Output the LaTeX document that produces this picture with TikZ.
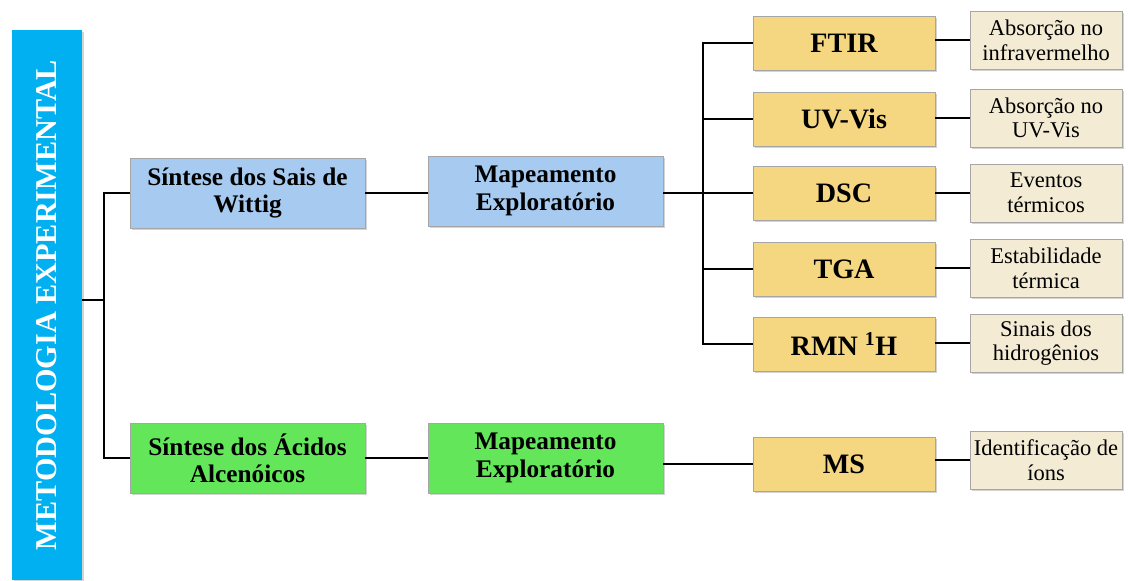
\documentclass[tikz,border=0pt]{standalone}
\usepackage{fontspec}
\setmainfont{Liberation Serif}
\usetikzlibrary{shadows}

\definecolor{barblue}{RGB}{0,176,240}
\definecolor{boxblue}{RGB}{166,202,240}
\definecolor{boxgreen}{RGB}{99,230,90}
\definecolor{boxgold}{RGB}{245,215,130}
\definecolor{boxbeige}{RGB}{243,235,212}

\begin{document}
\begin{tikzpicture}[x=0.025cm,y=-0.025cm]
		\tikzset{box/.style = {draw=black!35, line width=0.4pt, drop shadow={shadow xshift=1.2pt, shadow yshift=-1.2pt, opacity=0.35},
				align=center, inner sep=1pt, font=\fontsize{18}{19.5}\selectfont\bfseries}}
		\tikzset{synth/.style = {box, minimum width=5.875cm, minimum height=1.75cm}}
		\tikzset{tech/.style = {box, fill=boxgold, minimum width=4.55cm, minimum height=1.35cm,
				font=\fontsize{20}{22}\selectfont\bfseries}}
		\tikzset{info/.style = {box, fill=boxbeige, minimum width=3.8cm, minimum height=1.45cm,
				font=\fontsize{16}{17.5}\selectfont}}
		\tikzset{edge/.style = {line width=1.1pt}}
		
		\useasboundingbox (0,0) rectangle (1128,580);
		
		% barra lateral
		\node[fill=barblue, minimum width=1.75cm, minimum height=13.75cm, inner sep=0pt,
			drop shadow={shadow xshift=1.2pt, shadow yshift=-1.2pt, opacity=0.35}] (bar) at (47,305)
			{\rotatebox{90}{\fontsize{21.5}{24}\selectfont\bfseries\color{white}METODOLOGIA EXPERIMENTAL}};
		
		% sinteses e mapeamentos
		\node[synth, fill=boxblue]  (s1) at (247.5,193) {Síntese dos Sais de\\Wittig};
		\node[synth, fill=boxblue]  (m1) at (545.5,191) {Mapeamento\\Exploratório};
		\node[synth, fill=boxgreen] (s2) at (247.5,458) {Síntese dos Ácidos\\Alcenóicos};
		\node[synth, fill=boxgreen] (m2) at (545.5,458) {Mapeamento\\Exploratório};
		
		% tecnicas
		\node[tech] (t1) at (844,43)  {FTIR};
		\node[tech] (t2) at (844,119) {UV-Vis};
		\node[tech] (t3) at (844,193) {DSC};
		\node[tech] (t4) at (844,269) {TGA};
		\node[tech] (t5) at (844,344) {RMN \textsuperscript{1}H};
		\node[tech] (t6) at (844,464) {MS};
		
		% resultados
		\node[info] (r1) at (1046,40)  {Absorção no\\infravermelho};
		\node[info] (r2) at (1046,118) {Absorção no\\UV-Vis};
		\node[info] (r3) at (1046,193) {Eventos\\térmicos};
		\node[info] (r4) at (1046,268) {Estabilidade\\térmica};
		\node[info] (r5) at (1046,343) {Sinais dos\\hidrogênios};
		\node[info] (r6) at (1046,460) {Identificação de\\íons};
		
		\coordinate (j1) at (104,300);
		\coordinate (j2) at (703,193);
		
		\draw[edge] (bar.east |- j1) -- (j1);
		\draw[edge] (s1.west) -| (j1) |- (s2.west);
		\draw[edge] (s1) -- (m1.west |- s1);
		\draw[edge] (s2) -- (m2);
		\draw[edge] (m1.east |- j2) -- (j2);
		\draw[edge] (t1.west) -| (j2) |- (t5.west);
		\draw[edge] (j2 |- t2) -- (t2.west);
		\draw[edge] (j2 |- t3) -- (t3.west);
		\draw[edge] (j2 |- t4) -- (t4.west);
		\draw[edge] (m2.east |- t6) -- (t6.west);
		\foreach \i in {1,...,6}
			\draw[edge] (t\i.east |- r\i) -- (r\i.west);
		\end{tikzpicture}
\end{document}
